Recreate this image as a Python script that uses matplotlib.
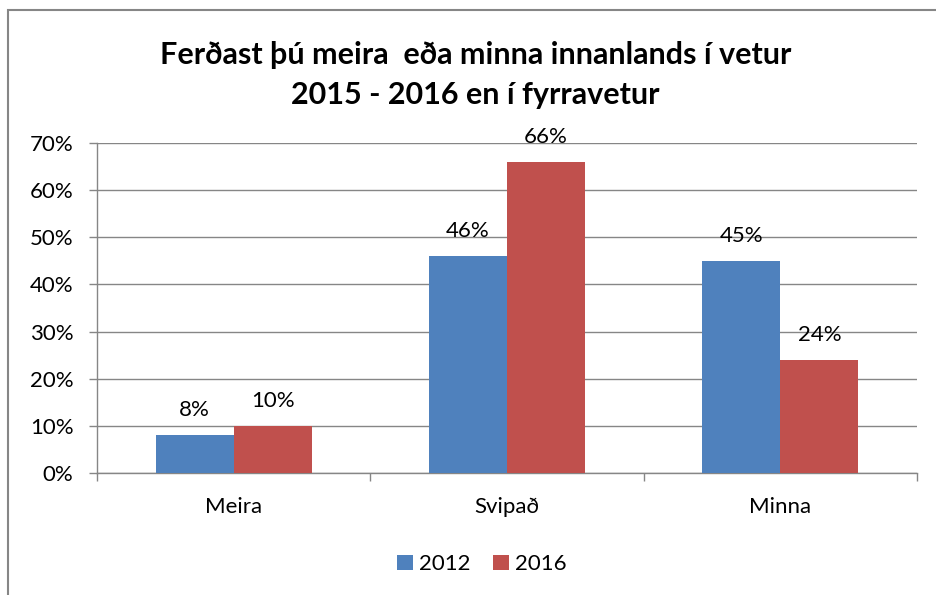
import matplotlib.pyplot as plt
import matplotlib.patches as patches
import numpy as np

categories = ["Meira", "Svipað", "Minna"]
series_names = ["2012", "2016"]
values_2012 = [0.08, 0.46, 0.45]
values_2016 = [0.10, 0.66, 0.24]
yticks = [0, 0.1, 0.2, 0.3, 0.4, 0.5, 0.6, 0.7]

blue = "#4F81BD"
red = "#C0504D"
axis_gray = "#868686"

plt.rcParams['font.family'] = ['Lato', 'DejaVu Sans']

fig = plt.figure(figsize=(9.36, 5.95), dpi=100)

# outer chart border (only top and left are visible in the crop)
fig.patches.append(patches.Rectangle((8 / 936, -0.1), 1.2, (595 - 10) / 595 + 0.1,
                                     transform=fig.transFigure, fill=False,
                                     edgecolor=axis_gray, linewidth=1.5))

ax = fig.add_axes([97 / 936, (595 - 473) / 595, (917 - 97) / 936, (473 - 143) / 595])

x = np.arange(len(categories))
w = 1 / 3.5
b1 = ax.bar(x - w / 2, values_2012, width=w, color=blue, label=series_names[0], zorder=3)
b2 = ax.bar(x + w / 2, values_2016, width=w, color=red, label=series_names[1], zorder=3)

for bars, vals in ((b1, values_2012), (b2, values_2016)):
    for rect, v in zip(bars, vals):
        ax.annotate(f"{v * 100:.0f}%", (rect.get_x() + rect.get_width() / 2, v),
                    xytext=(0, 11), textcoords="offset points", ha="center", va="bottom",
                    fontsize=16, zorder=4)

ax.set_xlim(-0.5, 2.5)
ax.set_ylim(0, 0.7)
ax.set_yticks(yticks)
ax.set_yticklabels([f"{t * 100:.0f}%" for t in yticks], fontsize=16)
ax.yaxis.grid(True, color=axis_gray, linewidth=1, zorder=0)

ax.set_xticks([-0.5, 0.5, 1.5, 2.5])
ax.set_xticklabels([])
ax.set_xticks(x, minor=True)
ax.set_xticklabels(categories, minor=True, fontsize=16)
ax.tick_params(axis="x", which="minor", length=0, pad=17)
ax.tick_params(axis="x", which="major", length=6, color=axis_gray, width=1)
ax.tick_params(axis="y", length=6, color=axis_gray, width=1, pad=11)

for s in ["top", "right"]:
    ax.spines[s].set_visible(False)
for s in ["left", "bottom"]:
    ax.spines[s].set_color(axis_gray)
    ax.spines[s].set_linewidth(1)

fig.text(0.508, 0.874, "Ferðast þú meira  eða minna innanlands í vetur\n2015 - 2016 en í fyrravetur",
         ha="center", va="center", fontsize=22, fontweight="bold", linespacing=1.5)

fig.legend(handles=[b1, b2], labels=series_names, loc="center", bbox_to_anchor=(0.515, 0.052),
           ncol=2, frameon=False, fontsize=16, handlelength=0.7, handleheight=0.7,
           handletextpad=0.3, columnspacing=1.0)

fig.savefig("out.png", dpi=100)
